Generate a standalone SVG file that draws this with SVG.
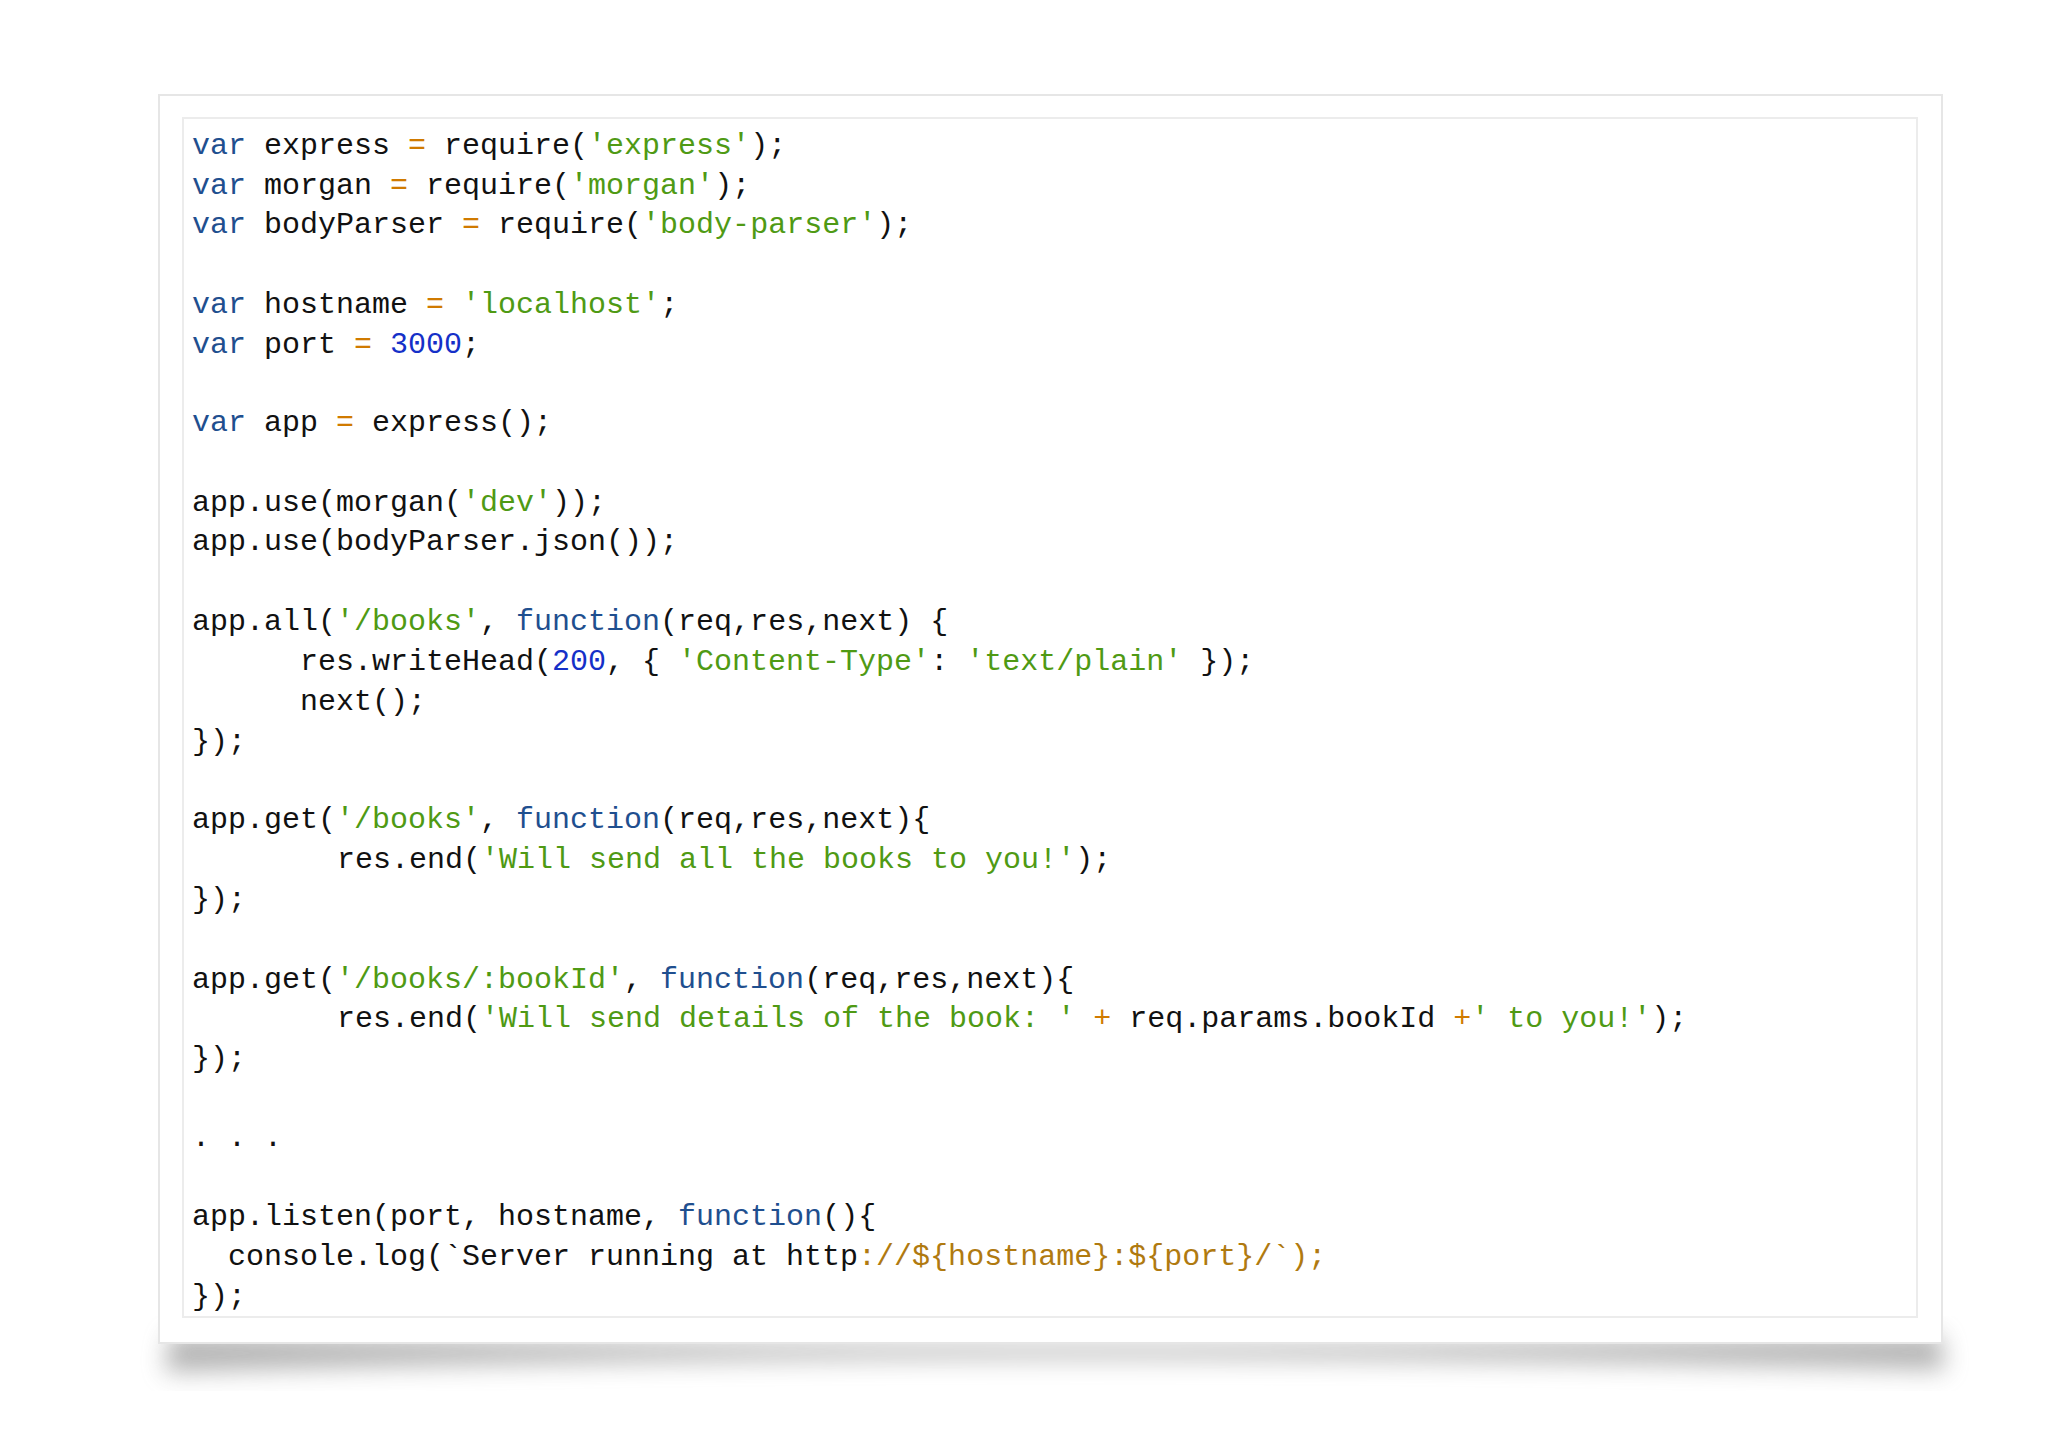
<svg xmlns="http://www.w3.org/2000/svg" width="2048" height="1448" viewBox="0 0 2048 1448">
<defs>
<filter id="sh" x="-5%" y="-50%" width="110%" height="200%"><feGaussianBlur stdDeviation="12"/></filter>
<style>
text{font-family:"Liberation Mono","DejaVu Sans Mono",monospace;font-size:30px;fill:#111;white-space:pre}
.k{fill:#1f4f8f}.s{fill:#4f9a14}.n{fill:#1530c8}.o{fill:#d07a00}.t{fill:#b07a10}
</style>
</defs>
<rect width="2048" height="1448" fill="#fff"/>
<path d="M170 1335 Q1050 1355 1940 1335 L1945 1370 Q1050 1345 165 1372 Z" fill="#777" filter="url(#sh)" opacity="0.55"/>
<rect id="card" x="159" y="95" width="1783" height="1248" fill="#fff" stroke="#e6e6e6" stroke-width="2"/>
<rect x="183" y="118" width="1734" height="1199" fill="#fff" stroke="#ececec" stroke-width="2"/>
<g id="code">
<text x="192" y="154" xml:space="preserve"><tspan class="k">var</tspan> express <tspan class="o">=</tspan> require(<tspan class="s">'express'</tspan>);</text>
<text x="192" y="194" xml:space="preserve"><tspan class="k">var</tspan> morgan <tspan class="o">=</tspan> require(<tspan class="s">'morgan'</tspan>);</text>
<text x="192" y="233" xml:space="preserve"><tspan class="k">var</tspan> bodyParser <tspan class="o">=</tspan> require(<tspan class="s">'body-parser'</tspan>);</text>
<text x="192" y="313" xml:space="preserve"><tspan class="k">var</tspan> hostname <tspan class="o">=</tspan> <tspan class="s">'localhost'</tspan>;</text>
<text x="192" y="353" xml:space="preserve"><tspan class="k">var</tspan> port <tspan class="o">=</tspan> <tspan class="n">3000</tspan>;</text>
<text x="192" y="431" xml:space="preserve"><tspan class="k">var</tspan> app <tspan class="o">=</tspan> express();</text>
<text x="192" y="511" xml:space="preserve">app.use(morgan(<tspan class="s">'dev'</tspan>));</text>
<text x="192" y="550" xml:space="preserve">app.use(bodyParser.json());</text>
<text x="192" y="630" xml:space="preserve">app.all(<tspan class="s">'/books'</tspan>, <tspan class="k">function</tspan>(req,res,next) {</text>
<text x="300" y="670" xml:space="preserve">res.writeHead(<tspan class="n">200</tspan>, { <tspan class="s">'Content-Type'</tspan>: <tspan class="s">'text/plain'</tspan> });</text>
<text x="300" y="710" xml:space="preserve">next();</text>
<text x="192" y="750" xml:space="preserve">});</text>
<text x="192" y="828" xml:space="preserve">app.get(<tspan class="s">'/books'</tspan>, <tspan class="k">function</tspan>(req,res,next){</text>
<text x="337" y="868" xml:space="preserve">res.end(<tspan class="s">'Will send all the books to you!'</tspan>);</text>
<text x="192" y="908" xml:space="preserve">});</text>
<text x="192" y="988" xml:space="preserve">app.get(<tspan class="s">'/books/:bookId'</tspan>, <tspan class="k">function</tspan>(req,res,next){</text>
<text x="337" y="1027" xml:space="preserve">res.end(<tspan class="s">'Will send details of the book: '</tspan> <tspan class="o">+</tspan> req.params.bookId <tspan class="o">+</tspan><tspan class="s">' to you!'</tspan>);</text>
<text x="192" y="1067" xml:space="preserve">});</text>
<text x="192" y="1146" xml:space="preserve">. . .</text>
<text x="192" y="1225" xml:space="preserve">app.listen(port, hostname, <tspan class="k">function</tspan>(){</text>
<text x="228" y="1265" xml:space="preserve">console.log(`Server running at http<tspan class="t">://${hostname}:${port}/`);</tspan></text>
<text x="192" y="1305" xml:space="preserve">});</text>
</g>
</svg>
